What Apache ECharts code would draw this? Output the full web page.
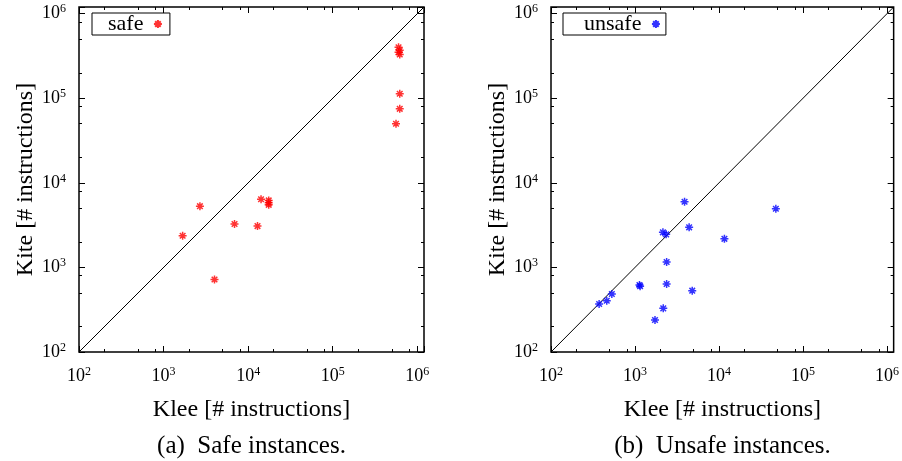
<!DOCTYPE html>
<html><head><meta charset="utf-8">
<script src="https://cdn.jsdelivr.net/npm/echarts@6/dist/echarts.min.js"></script>
<style>html,body{margin:0;padding:0;background:#fff}#c{width:902px;height:461px}</style>
</head><body><div id="c"></div>
<script>
// ---- data (Klee vs Kite, # instructions) ----
const safeKlee = [6.0e5, 6.2e5, 6.0e5, 6.2e5, 6.2e5, 6.2e5, 5.6e5, 1.42e4, 1.75e4, 1.75e4, 1.75e4, 2.69e3, 6.9e3, 1.29e4, 1.68e3, 4.0e3];
const safeKite = [4.0e5, 3.7e5, 3.5e5, 3.3e5, 1.13e5, 7.5e4, 5.0e4, 6.4e3, 6.2e3, 5.8e3, 5.5e3, 5.3e3, 3.26e3, 3.08e3, 2.37e3, 7.2e2];
const unsafeKlee = [3.89e3, 4.75e4, 4.41e3, 2.15e3, 2.35e3, 1.16e4, 2.38e3, 1.13e3, 1.15e3, 2.38e3, 4.8e3, 530, 461, 374, 2.17e3, 1.73e3];
const unsafeKite = [5.98e3, 4.94e3, 2.98e3, 2.6e3, 2.46e3, 2.18e3, 1.16e3, 620, 600, 637, 531, 485, 404, 369, 328, 239];
const axisMin = 100, axisMax = 1.2e6;
const minorMultipliers = [2, 5, 8];
const seriesNames = ['safe', 'unsafe'];
const xTitle = 'Klee [# instructions]';
const yTitle = 'Kite [# instructions]';
const captions = ['(a)  Safe instances.', '(b)  Unsafe instances.'];

const FONT = '"Liberation Serif", "Times New Roman", serif';
const minorExps = [];
for (let e = 2; e < 7; e++) minorMultipliers.forEach(m => { const v = e + Math.log10(m); if (v < Math.log10(axisMax)) minorExps.push(v); });

const STAR = 'path://M0 5H10M5 0V10M1.5 1.5L8.5 8.5M8.5 1.5L1.5 8.5';
const grids = [
  { left: 79, top: 7, width: 345, height: 345 },
  { left: 551, top: 7, width: 343, height: 345 }
];

function labelFmt(v) {
  const e = Math.log10(v), r = Math.round(e);
  if (Math.abs(e - r) > 1e-6) return '';
  return '{b|10}{s|' + r + '}';
}
const rich = {
  b: { fontSize: 18, fontFamily: FONT, color: '#000' },
  s: { fontSize: 12, fontFamily: FONT, color: '#000', padding: [0, 0, 9, 0] }
};

function axesFor(gi, isX) {
  const common = { gridIndex: gi, splitLine: { show: false }, axisLine: { show: false } };
  const logBase = Object.assign({}, common, { type: 'log', logBase: 10, min: axisMin, max: axisMax });
  const valBase = Object.assign({}, common, { type: 'value', min: 2, max: Math.log10(axisMax), axisLabel: { show: false } });
  return [
    Object.assign({}, logBase, {
      position: isX ? 'bottom' : 'left',
      axisTick: { inside: true, length: 6, lineStyle: { color: '#000' } },
      axisLabel: { formatter: labelFmt, rich: rich, margin: isX ? 14 : 13 },
      name: isX ? xTitle : yTitle, nameLocation: 'middle', nameGap: isX ? 46 : 40,
      nameTextStyle: { fontSize: 24, fontFamily: FONT, color: '#000' }
    }),
    Object.assign({}, logBase, {
      position: isX ? 'top' : 'right',
      axisTick: { inside: true, length: 6, lineStyle: { color: '#000' } },
      axisLabel: { show: false }
    }),
    Object.assign({}, valBase, {
      position: isX ? 'bottom' : 'left',
      axisTick: { inside: true, length: 3, customValues: minorExps, lineStyle: { color: '#000' } }
    }),
    Object.assign({}, valBase, {
      position: isX ? 'top' : 'right',
      axisTick: { inside: true, length: 3, customValues: minorExps, lineStyle: { color: '#000' } }
    })
  ];
}

const xAxis = [].concat(axesFor(0, true), axesFor(1, true));
const yAxis = [].concat(axesFor(0, false), axesFor(1, false));

function pairs(xs, ys) { return xs.map((x, i) => [x, ys[i]]); }

const colors = ['#ff0000', '#0000ff'];
const dataSets = [pairs(safeKlee, safeKite), pairs(unsafeKlee, unsafeKite)];
const series = [];
[0, 1].forEach(gi => {
  series.push({
    type: 'line', xAxisIndex: gi * 4, yAxisIndex: gi * 4, silent: true,
    data: [[axisMin, axisMin], [axisMax, axisMax]], symbol: 'none',
    lineStyle: { color: '#000', width: 1 }, z: 1
  });
  series.push({
    name: seriesNames[gi], type: 'scatter', xAxisIndex: gi * 4, yAxisIndex: gi * 4,
    data: dataSets[gi], symbol: STAR, symbolSize: 8,
    itemStyle: { color: colors[gi], borderColor: colors[gi], borderWidth: 1.5 }, z: 3
  });
});

const legendText = { fontSize: 22, lineHeight: 21, fontFamily: FONT, color: '#000' };
const option = {
  animation: false,
  textStyle: { fontFamily: FONT },
  grid: grids.map(g => Object.assign({ show: true, borderColor: '#000', borderWidth: 1.5, backgroundColor: 'transparent' }, g)),
  xAxis, yAxis, series,
  legend: [
    { data: ['safe'], left: 92, top: 13, padding: [0, 7, 0, 16], itemWidth: 19, itemHeight: 8, align: 'right',
      borderColor: '#000', borderWidth: 1, textStyle: legendText },
    { data: ['unsafe'], left: 563, top: 13, padding: [0, 5, 0, 21], itemWidth: 19, itemHeight: 8, align: 'right',
      borderColor: '#000', borderWidth: 1, textStyle: legendText }
  ],
  graphic: [
    { type: 'text', x: 251.5, y: 446, style: { text: captions[0], font: '25px ' + FONT, fill: '#000', align: 'center', verticalAlign: 'middle' } },
    { type: 'text', x: 722.5, y: 446, style: { text: captions[1], font: '25px ' + FONT, fill: '#000', align: 'center', verticalAlign: 'middle' } }
  ]
};
const chart = echarts.init(document.getElementById('c'));
chart.setOption(option);
</script>
</body></html>
